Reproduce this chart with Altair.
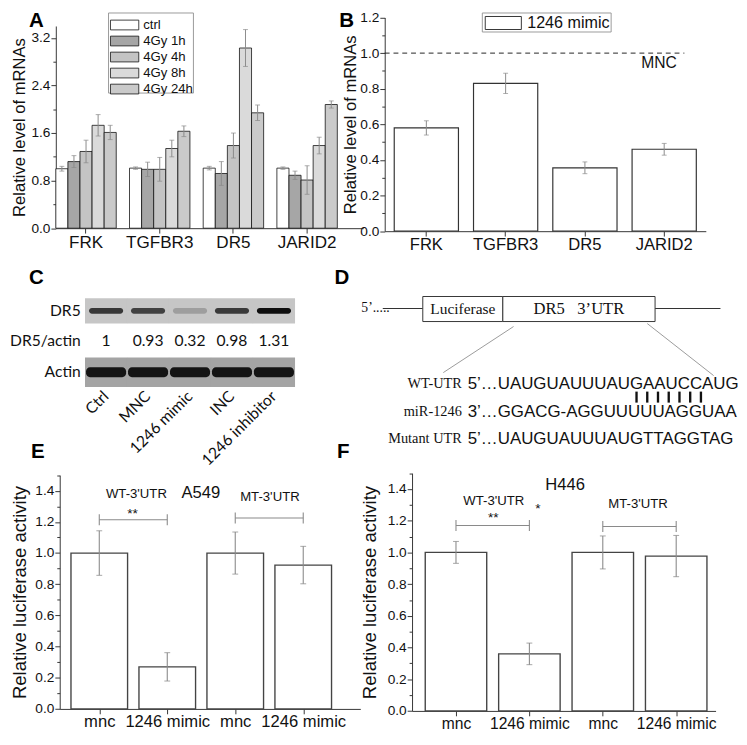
import json
import altair as alt
import pandas as pd

SANS = "Liberation Sans"
SERIF = "Liberation Serif"
CAL = "Lato"
AXC = "#333333"
TXT = "#111111"
ERRC = "#8a8a8a"

# ---------------- data ----------------
panel_letters = ["A", "B", "C", "D", "E", "F"]

genes = ["FRK", "TGFBR3", "DR5", "JARID2"]
a_series = ["ctrl", "4Gy 1h", "4Gy 4h", "4Gy 8h", "4Gy 24h"]
a_ctrl = [1.00, 1.01, 1.01, 1.01]
a_1h = [1.12, 0.99, 0.92, 0.89]
a_4h = [1.29, 0.99, 1.39, 0.81]
a_8h = [1.73, 1.34, 3.03, 1.39]
a_24h = [1.61, 1.63, 1.94, 2.08]
a_ctrl_err = [0.04, 0.02, 0.03, 0.02]
a_1h_err = [0.10, 0.12, 0.20, 0.07]
a_4h_err = [0.19, 0.20, 0.21, 0.24]
a_8h_err = [0.18, 0.14, 0.31, 0.14]
a_24h_err = [0.12, 0.09, 0.13, 0.06]
a_fills = ["#ffffff", "#a6a6a6", "#c4c4c4", "#dadada", "#cacaca"]

b_series = ["1246 mimic"]
b_vals = [0.58, 0.83, 0.356, 0.46]
b_errs = [0.04, 0.057, 0.033, 0.033]
b_ref_value = 1.0
b_ref_label = "MNC"

lanes = ["Ctrl", "MNC", "1246 mimic", "INC", "1246 inhibitor"]
dr5_actin = [1, 0.93, 0.32, 0.98, 1.31]
c_rows = ["DR5", "DR5/actin", "Actin"]

seq_labels = ["WT-UTR", "miR-1246", "Mutant UTR"]
seq_texts = ["5\u2019\u2026UAUGUAUUUAUGAAUCCAUG",
             "3\u2019\u2026GGACG-AGGUUUUUAGGUAA",
             "5\u2019\u2026UAUGUAUUUAUGTTAGGTAG"]
pair_count = 7
construct_parts = ["Luciferase", "DR5\u00a0\u00a0\u00a03\u2019UTR"]

luc_labels = ["mnc", "1246 mimic", "mnc", "1246 mimic"]
e_vals = [1.0, 0.27, 1.0, 0.923]
e_errs = [0.143, 0.091, 0.135, 0.12]
f_vals = [1.0, 0.36, 1.0, 0.977]
f_errs = [0.069, 0.068, 0.104, 0.13]
bracket_x0 = [0, 2]
bracket_x1 = [1, 3]
e_bracket_y = [1.214, 1.225]
f_bracket_y = [1.17, 1.164]

# ---------------- layout (page pixels of the reference -> panel pixels) ----------------
W_LEFT, W_RIGHT = 365, 364
H1, H2, H3 = 246, 200, 294
K = 1.0256


def lx(r):  # left column
    return r - 2


def rx(r):  # right column
    return r - 376


def y1(r):
    return K * r


def y2(r):
    return K * r - 256


def y3(r):
    return K * r - 469


one = alt.Data(values=[{"k": 0}])


def letter(t, x, y):
    return alt.Chart(alt.Data(values=[{"t": t}])).mark_text(
        font=SANS, fontSize=21, fontWeight="bold", color="black", baseline="middle"
    ).encode(text="t:N", x=alt.value(x), y=alt.value(y))


def box(x0, x1, ya, yb, fill, stroke, sw):
    return alt.Chart(one).mark_rect(fill=fill, stroke=stroke, strokeWidth=sw).encode(
        x=alt.value(x0), x2=alt.value(x1), y=alt.value(ya), y2=alt.value(yb))


def label(text, x, y, size, font=SANS, align="left", weight="normal"):
    return alt.Chart(alt.Data(values=[{"t": text}])).mark_text(
        font=font, fontSize=size, color=TXT, align=align, baseline="middle", fontWeight=weight
    ).encode(text="t:N", x=alt.value(x), y=alt.value(y))


def yaxis(offset, title, values, mod, title_size, title_pad, label_pad=1):
    test = f"round(datum.value*10) % {mod} == 0"
    return alt.Axis(
        orient="left", offset=offset, title=title, values=values,
        labelExpr=f"{test} ? format(datum.value, '.1f') : ''",
        tickSize={"condition": {"test": test, "value": 5}, "value": 3},
        labelOverlap=False, labelFont=SANS, labelFontSize=14, labelColor=TXT,
        labelPadding=label_pad, titleFont=SANS, titleFontSize=title_size,
        titleFontWeight="normal", titleColor=TXT, titlePadding=title_pad,
        domainColor=AXC, tickColor=AXC, grid=False, minExtent=0,
    )


def steps(lo, hi, st):
    n = int(round((hi - lo) / st))
    return [round(lo + i * st, 2) for i in range(n + 1)]


# ---------------- panel A ----------------
a_vals = [a_ctrl, a_1h, a_4h, a_8h, a_24h]
a_errs = [a_ctrl_err, a_1h_err, a_4h_err, a_8h_err, a_24h_err]
rowsA = []
for si, s in enumerate(a_series):
    for gi, g in enumerate(genes):
        rowsA.append({"gene": g, "series": s, "value": a_vals[si][gi], "err": a_errs[si][gi]})
dfA = pd.DataFrame(rowsA)
dfA["lo"] = dfA["value"] - dfA["err"]
dfA["hi"] = dfA["value"] + dfA["err"]

scAx = alt.Scale(domain=genes, range=[lx(50), lx(365)], paddingInner=0.18, paddingOuter=0.176, align=0)
axAx = alt.Axis(orient="bottom", offset=y1(218) - H1, title=None, labelAngle=0, labelFont=SANS,
                labelFontSize=17.5, labelColor=TXT, labelPadding=1, tickSize=5, minExtent=0,
                domainColor=AXC, tickColor=AXC, grid=False)
scAy = alt.Scale(domain=[0, 3.4], range=[y1(218), y1(16)], nice=False, zero=True)
axAy = yaxis(-lx(50), "Relative level of mRNAs", steps(0, 3.2, 0.4), 8, 17, 3)


def XA():
    return alt.X("gene:N", sort=genes, scale=scAx, axis=axAx)


def XOA():
    return alt.XOffset("series:N", sort=a_series,
                       scale=alt.Scale(domain=a_series, paddingInner=0, paddingOuter=0))


baseA = alt.Chart(dfA)
barsA = baseA.mark_bar(stroke="#111", strokeWidth=0.8).encode(
    x=XA(), xOffset=XOA(),
    y=alt.Y("value:Q", scale=scAy, axis=axAy),
    fill=alt.Fill("series:N", sort=a_series, scale=alt.Scale(domain=a_series, range=a_fills), legend=None),
)
errA = baseA.mark_rule(color=ERRC, strokeWidth=1).encode(
    x=XA(), xOffset=XOA(), y=alt.Y("lo:Q", scale=scAy, axis=axAy), y2="hi:Q")
capLoA = baseA.mark_tick(orient="horizontal", size=5, thickness=1, color=ERRC).encode(
    x=XA(), xOffset=XOA(), y=alt.Y("lo:Q", scale=scAy, axis=axAy))
capHiA = baseA.mark_tick(orient="horizontal", size=5, thickness=1, color=ERRC).encode(
    x=XA(), xOffset=XOA(), y=alt.Y("hi:Q", scale=scAy, axis=axAy))

legA = [box(lx(104), lx(191), y1(3), y1(83), "white", "#999", 1)]
for i, s in enumerate(a_series):
    yc = y1(15 + 16 * i)
    legA.append(box(lx(106), lx(135), yc - 5, yc + 5, a_fills[i], "#111", 0.8))
    legA.append(label(s, lx(139.5), yc, 13.5))

panelA = alt.layer(barsA, errA, capLoA, capHiA, *legA,
                   letter(panel_letters[0], lx(30), y1(11))).properties(width=W_LEFT, height=H1)

# ---------------- panel B ----------------
dfB = pd.DataFrame({"gene": genes, "value": b_vals, "err": b_errs, "series": b_series * len(genes)})
dfB["lo"] = dfB["value"] - dfB["err"]
dfB["hi"] = dfB["value"] + dfB["err"]
scBx = alt.Scale(domain=genes, range=[rx(396), rx(725)], paddingInner=0.19, paddingOuter=0.12)
axBx = alt.Axis(orient="bottom", offset=y1(221) - H1, title=None, labelAngle=0, labelFont=SANS,
                labelFontSize=17, labelColor=TXT, labelPadding=1, tickSize=5, minExtent=0,
                domainColor=AXC, tickColor=AXC, grid=False)
scBy = alt.Scale(domain=[0, 1.2], range=[y1(221), y1(7.5)], nice=False, zero=True)
axBy = yaxis(-rx(396), "Relative level of mRNAs", steps(0, 1.2, 0.1), 2, 17, 0)


def XB():
    return alt.X("gene:N", sort=genes, scale=scBx, axis=axBx)


baseB = alt.Chart(dfB)
barsB = baseB.mark_bar(stroke="#333", strokeWidth=1.2).encode(
    x=XB(), y=alt.Y("value:Q", scale=scBy, axis=axBy),
    fill=alt.Fill("series:N", scale=alt.Scale(domain=b_series, range=["white"]), legend=None),
)
errB = baseB.mark_rule(color=ERRC, strokeWidth=1).encode(
    x=XB(), y=alt.Y("lo:Q", scale=scBy, axis=axBy), y2="hi:Q")
capLoB = baseB.mark_tick(orient="horizontal", size=5, thickness=1, color=ERRC).encode(
    x=XB(), y=alt.Y("lo:Q", scale=scBy, axis=axBy))
capHiB = baseB.mark_tick(orient="horizontal", size=5, thickness=1, color=ERRC).encode(
    x=XB(), y=alt.Y("hi:Q", scale=scBy, axis=axBy))
refB = alt.Chart(alt.Data(values=[{"v": b_ref_value, "t": b_ref_label, "tv": 0.945}]))
dashB = refB.mark_rule(color="#222", strokeDash=[5, 4], strokeWidth=1).encode(
    y=alt.Y("v:Q", scale=scBy, axis=axBy), x=alt.value(rx(396)), x2=alt.value(rx(703)))
mncB = refB.mark_text(font=SANS, fontSize=16, color=TXT, baseline="middle").encode(
    text="t:N", x=alt.value(rx(677)), y=alt.Y("tv:Q", scale=scBy, axis=axBy))
legB = [box(rx(496), rx(628), y1(3), y1(22), "white", "#999", 1),
        box(rx(499), rx(536), y1(6.5), y1(19.5), "white", "#333", 1),
        label(b_series[0], rx(542), y1(13), 16.5)]
panelB = alt.layer(barsB, errB, capLoB, capHiB, dashB, mncB, *legB,
                   letter(panel_letters[1], rx(357), y1(11))).properties(width=W_RIGHT, height=H1)

# ---------------- panel C ----------------
dfC = pd.DataFrame({"lane": lanes, "ratio": dr5_actin})
scCx = alt.Scale(domain=lanes, range=[lx(80), lx(295)], paddingInner=0, paddingOuter=0)
axCx = alt.Axis(orient="bottom", offset=y2(387) - H2, title=None, labelAngle=315, labelAlign="right",
                labelBaseline="middle", labelFont=CAL, labelFontSize=16, labelColor=TXT,
                labelPadding=6, domain=False, ticks=False, tickSize=0, minExtent=0)
scCy = alt.Scale(domain=c_rows, range=[y2(295), y2(387)], paddingInner=0, paddingOuter=0)
axCy = alt.Axis(orient="left", offset=-lx(80), title=None, labelFont=CAL, labelFontSize=16,
                labelColor=TXT, labelPadding=5, domain=False, ticks=False, tickSize=0, minExtent=0)


def XC():
    return alt.X("lane:N", sort=lanes, scale=scCx, axis=axCx)


def YC():
    return alt.Y("row:N", sort=c_rows, scale=scCy, axis=axCy)


baseC = alt.Chart(dfC)
bgDR5 = baseC.transform_calculate(row="'DR5'").mark_tick(
    orient="horizontal", size=43.2, thickness=26, color="#c6c6c6", opacity=1).encode(x=XC(), y=YC())
bgAct = baseC.transform_calculate(row="'Actin'").mark_tick(
    orient="horizontal", size=43.2, thickness=30, color="#a4a4a4", opacity=1).encode(x=XC(), y=YC())
bandDR5 = baseC.transform_calculate(row="'DR5'").mark_tick(
    orient="horizontal", size=35, thickness=6, cornerRadius=3, opacity=1).encode(
    x=XC(), y=YC(),
    color=alt.Color("ratio:Q", scale=alt.Scale(domain=[0, 1.31], range=["#d4d4d4", "#0e0e0e"]),
                    legend=None))
bandAct = baseC.transform_calculate(row="'Actin'").mark_tick(
    orient="horizontal", size=41, thickness=10, cornerRadius=4, color="#141414", opacity=1).encode(
    x=XC(), y=YC())
ratioC = baseC.transform_calculate(row="'DR5/actin'").mark_text(
    font=CAL, fontSize=16, color=TXT, baseline="middle").encode(
    x=XC(), y=YC(), text=alt.Text("ratio:Q"))
panelC = alt.layer(bgDR5, bgAct, bandDR5, bandAct, ratioC,
                   letter(panel_letters[2], lx(30), y2(278))).properties(width=W_LEFT, height=H2)

# ---------------- panel D ----------------
dfD = pd.DataFrame({"label": seq_labels, "seq": seq_texts, "row": list(range(len(seq_labels)))})
scDy = alt.Scale(domain=[0, 2], range=[y2(383.7), y2(438.7)])
dfPair = pd.DataFrame({"p": list(range(pair_count))})
scPx = alt.Scale(domain=[0, pair_count - 1], range=[rx(654), rx(720)], nice=False, zero=False)
line_col = "#333"
d_layers = [
    label("5\u2019.....", rx(372), y2(308), 14, font=SERIF),
    alt.Chart(one).mark_rule(color=line_col, strokeWidth=1.2).encode(
        x=alt.value(rx(394)), x2=alt.value(rx(435)), y=alt.value(y2(308))),
    alt.Chart(one).mark_rule(color=line_col, strokeWidth=1.2).encode(
        x=alt.value(rx(673)), x2=alt.value(rx(740)), y=alt.value(y2(308))),
    box(rx(435), rx(517), y2(296), y2(321), "white", line_col, 1),
    box(rx(517), rx(673), y2(296), y2(321), "white", line_col, 1),
    label(construct_parts[0], rx(476), y2(309), 15.8, font=SERIF, align="center"),
    label(construct_parts[1], rx(595), y2(309), 17, font=SERIF, align="center"),
    alt.Chart(one).mark_rule(color="#999", strokeWidth=1).encode(
        x=alt.value(rx(528)), y=alt.value(y2(326)), x2=alt.value(rx(456)), y2=alt.value(y2(372))),
    alt.Chart(one).mark_rule(color="#999", strokeWidth=1).encode(
        x=alt.value(rx(665)), y=alt.value(y2(323)), x2=alt.value(rx(733)), y2=alt.value(y2(375))),
    alt.Chart(dfD).mark_text(font=SERIF, fontSize=14.7, color=TXT, align="right", baseline="middle").encode(
        text="label:N", x=alt.value(rx(475)), y=alt.Y("row:Q", scale=scDy, axis=None)),
    alt.Chart(dfD).mark_text(font=SANS, fontSize=17.3, color=TXT, align="left", baseline="middle").encode(
        text="seq:N", x=alt.value(rx(481)), y=alt.Y("row:Q", scale=scDy, axis=None)),
    alt.Chart(dfPair).mark_rule(color=TXT, strokeWidth=2.4).encode(
        x=alt.X("p:Q", scale=scPx, axis=None), y=alt.value(y2(391)), y2=alt.value(y2(402))),
    letter(panel_letters[3], rx(352), y2(278)),
]
panelD = alt.layer(*d_layers).properties(width=W_RIGHT, height=H2)

# ---------------- panels E / F ----------------


def lucpanel(vals, errs, br_y, y0px, y14px, x_rng, x_dom, bar_w, yaxis_off, title_pad, title_size,
             xlab_size, texts, let, let_xy, width):
    df = pd.DataFrame({"idx": list(range(len(vals))), "value": vals, "err": errs})
    df["lo"] = df["value"] - df["err"]
    df["hi"] = df["value"] + df["err"]
    pxu = (y0px - y14px) / 1.4
    scy = alt.Scale(domain=[0, 1.5], range=[y0px, y0px - 1.5 * pxu], nice=False, zero=True)
    axy = yaxis(yaxis_off, "Relative luciferase activity", steps(0, 1.5, 0.1), 2, title_size, title_pad)
    scx = alt.Scale(domain=x_dom, range=x_rng, nice=False, zero=False)
    axx = alt.Axis(orient="bottom", offset=y0px - H3, title=None, values=list(range(len(vals))),
                   labelExpr=json.dumps(luc_labels) + "[datum.value]", labelFont=SANS,
                   labelFontSize=xlab_size, labelColor=TXT, labelPadding=0, tickSize=5, minExtent=0,
                   domainColor=AXC, tickColor=AXC, grid=False, labelOverlap=False, labelFlush=False)

    def X(f="idx"):
        return alt.X(f"{f}:Q", scale=scx, axis=axx)

    def Y(f):
        return alt.Y(f"{f}:Q", scale=scy, axis=axy)

    base = alt.Chart(df)
    bars = base.mark_bar(width=bar_w, fill="white", stroke="#444", strokeWidth=1.4).encode(x=X(), y=Y("value"))
    err = base.mark_rule(color=ERRC, strokeWidth=1.1).encode(x=X(), y=Y("lo"), y2="hi:Q")
    capl = base.mark_tick(orient="horizontal", size=6, thickness=1.1, color=ERRC).encode(x=X(), y=Y("lo"))
    caph = base.mark_tick(orient="horizontal", size=6, thickness=1.1, color=ERRC).encode(x=X(), y=Y("hi"))
    dfb = pd.DataFrame({"x0": bracket_x0, "x1": bracket_x1, "y": br_y})
    dfb["ya"] = dfb["y"] - 0.035
    dfb["yb"] = dfb["y"] + 0.035
    bb = alt.Chart(dfb)
    brh = bb.mark_rule(color=ERRC, strokeWidth=1.1).encode(x=X("x0"), x2="x1:Q", y=Y("y"))
    brl = bb.mark_rule(color=ERRC, strokeWidth=1.1).encode(x=X("x0"), y=Y("ya"), y2="yb:Q")
    brr = bb.mark_rule(color=ERRC, strokeWidth=1.1).encode(x=X("x1"), y=Y("ya"), y2="yb:Q")
    layers = [bars, err, capl, caph, brh, brl, brr]
    for (t, tx, ty, fs, dy) in texts:
        tdf = pd.DataFrame({"t": [t], "x": [tx], "y": [ty]})
        layers.append(alt.Chart(tdf).mark_text(font=SANS, fontSize=fs, color=TXT, baseline="middle", dy=dy).encode(
            text="t:N", x=X("x"), y=Y("y")))
    layers.append(letter(let, *let_xy))
    return alt.layer(*layers).properties(width=width, height=H3)


e_texts = [("WT-3'UTR", 0.546, 1.379, 13.5, 0), ("MT-3'UTR", 2.51, 1.358, 13.5, 0),
           ("A549", 1.494, 1.385, 17, 0), ("**", 0.49, 1.268, 14, 3)]
f_texts = [("H446", 1.487, 1.427, 17, 0), ("WT-3'UTR", 0.516, 1.326, 13.5, 0),
           ("MT-3'UTR", 2.48, 1.305, 13.5, 0), ("**", 0.507, 1.238, 14, 3), ("*", 1.115, 1.29, 14, 3)]

panelE = lucpanel(e_vals, e_errs, e_bracket_y, y3(720.7), y3(502.7), [lx(54), lx(362)], [-0.51, 3.768], 58,
                  -lx(54), 6, 19, 17, e_texts, panel_letters[4], (lx(31.5), y3(464.5)), W_LEFT)
panelF = lucpanel(f_vals, f_errs, f_bracket_y, y3(722.7), y3(501), [rx(424), rx(735)], [-0.532, 3.47], 63,
                  -rx(424), 8, 19, 16, f_texts, panel_letters[5], (rx(353.5), y3(464.5)), W_RIGHT)

chart = alt.concat(panelA, panelB, panelC, panelD, panelE, panelF, columns=2, spacing=0, bounds="flush")
chart = chart.resolve_scale(x="independent", y="independent", fill="independent", color="independent") \
    .properties(padding={"top": -8, "bottom": 0, "left": 0, "right": 0}, background="white") \
    .configure_view(stroke="transparent")

chart.save("out.html", embed_options={"renderer": "svg", "actions": False})
